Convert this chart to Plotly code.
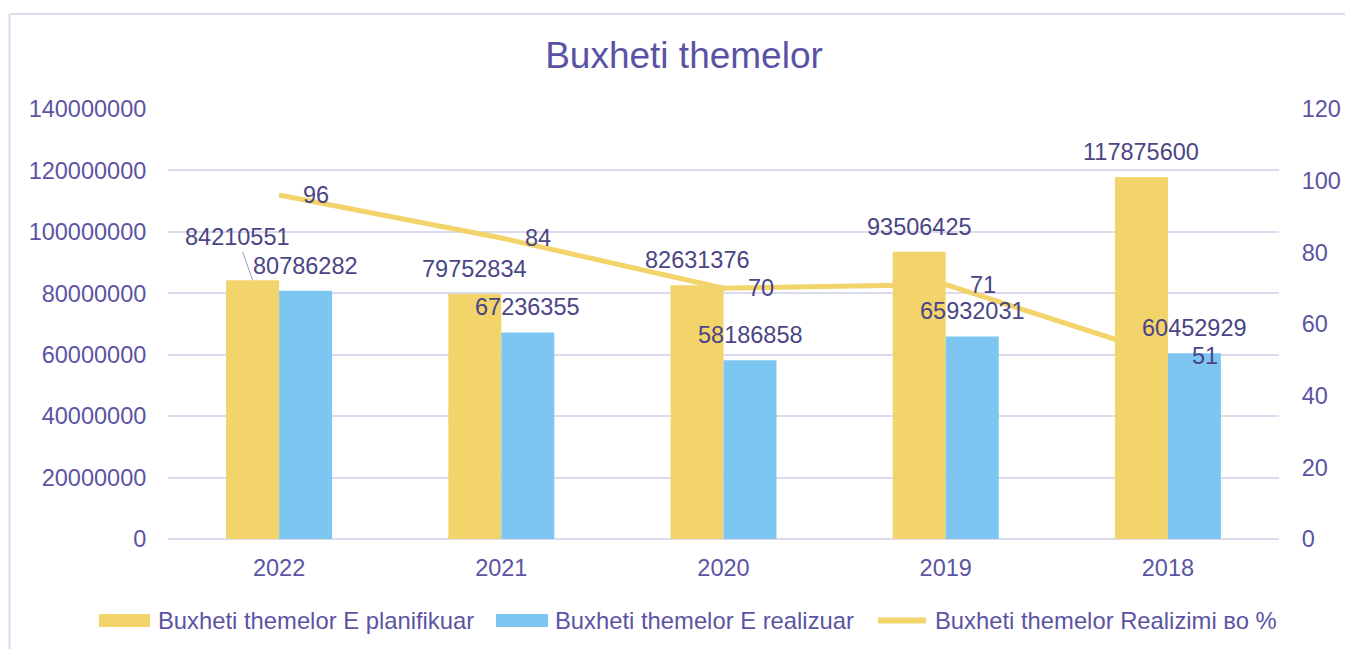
import plotly.graph_objects as go

# ---------------- data ----------------
years = ["2022", "2021", "2020", "2019", "2018"]
planned = [84210551, 79752834, 82631376, 93506425, 117875600]
realized = [80786282, 67236355, 58186858, 65932031, 60452929]
percent = [96, 84, 70, 71, 51]
left_ticks = [0, 20000000, 40000000, 60000000, 80000000, 100000000, 120000000, 140000000]
right_ticks = [0, 20, 40, 60, 80, 100, 120]
series_names = ["Buxheti themelor E planifikuar",
                "Buxheti themelor E realizuar",
                "Buxheti themelor Realizimi во %"]
chart_title = "Buxheti themelor"

# ---------------- styles ----------------
W, H = 1345, 649
L, R, T, B = 168, 66, 109, 110
PW, PH = W - L - R, H - T - B
YELLOW = "#F2D46B"
BLUE = "#7EC6F2"
GRID = "#DCDAEE"
TICK_COLOR = "#5B54A3"
LABEL_COLOR = "#4A4585"
FONT = "Liberation Sans, Arial, sans-serif"
FS = 23.5
LEG_FS = 23.8


def px_x(p):
    return (p - L) / PW


def px_y(p):
    return (H - B - p) / PH


fig = go.Figure()
fig.add_trace(go.Bar(x=years, y=planned, name=series_names[0],
                     marker=dict(color=YELLOW, line=dict(width=0)), showlegend=False))
fig.add_trace(go.Bar(x=years, y=realized, name=series_names[1],
                     marker=dict(color=BLUE, line=dict(width=0)), showlegend=False))
fig.add_trace(go.Scatter(x=years, y=percent, name=series_names[2], yaxis="y2",
                         mode="lines", line=dict(color=YELLOW, width=5),
                         showlegend=False))

annotations = []
bar_half = 26.5
lab_font = dict(family=FONT, size=FS, color=LABEL_COLOR)
for i, yr in enumerate(years):
    if i == 0:
        annotations.append(dict(x=i, y=planned[i], xref="x", yref="y", xshift=-bar_half,
                                text=str(planned[i]), showarrow=True, arrowhead=0,
                                arrowwidth=1, arrowcolor="#9C97C7", ax=-15, ay=-43,
                                standoff=0, font=lab_font))
    else:
        annotations.append(dict(x=i, y=planned[i], xref="x", yref="y", xshift=-bar_half,
                                yshift=25, text=str(planned[i]), showarrow=False,
                                yanchor="middle", font=lab_font))
    annotations.append(dict(x=i, y=realized[i], xref="x", yref="y", xshift=bar_half,
                            yshift=25, text=str(realized[i]), showarrow=False,
                            yanchor="middle", font=lab_font))
    annotations.append(dict(x=i, y=percent[i], xref="x", yref="y2", xshift=37,
                            text=str(percent[i]), showarrow=False, yanchor="middle",
                            font=lab_font))

# custom legend
legend_y = 620.5
legend_items = [
    ("rect", YELLOW, 99, 150, 156, series_names[0]),
    ("rect", BLUE, 496, 548, 553, series_names[1]),
    ("line", YELLOW, 878, 926, 933, series_names[2]),
]
shapes = []
for kind, col, x0, x1, tx, name in legend_items:
    if kind == "rect":
        shapes.append(dict(type="rect", xref="paper", yref="paper",
                           x0=px_x(x0), x1=px_x(x1), y0=px_y(legend_y - 6.5), y1=px_y(legend_y + 6.5),
                           fillcolor=col, line=dict(width=0)))
    else:
        shapes.append(dict(type="line", xref="paper", yref="paper",
                           x0=px_x(x0), x1=px_x(x1), y0=px_y(legend_y), y1=px_y(legend_y),
                           line=dict(color=col, width=6)))
    annotations.append(dict(x=px_x(tx), y=px_y(legend_y), xref="paper", yref="paper",
                            xanchor="left", yanchor="middle", text=name, showarrow=False,
                            font=dict(family=FONT, size=LEG_FS, color=TICK_COLOR)))

# outer border (left and top edges visible)
shapes.append(dict(type="line", xref="paper", yref="paper",
                   x0=px_x(9.5), x1=px_x(9.5), y0=px_y(14), y1=px_y(680),
                   line=dict(color=GRID, width=2)))
shapes.append(dict(type="line", xref="paper", yref="paper",
                   x0=px_x(9.5), x1=px_x(1380), y0=px_y(14), y1=px_y(14),
                   line=dict(color=GRID, width=2)))

fig.update_layout(
    width=W, height=H,
    margin=dict(l=L, r=R, t=T, b=B, pad=0, autoexpand=False),
    paper_bgcolor="white", plot_bgcolor="white",
    font=dict(family=FONT, size=FS, color=TICK_COLOR),
    title=dict(text=chart_title, xref="container", yref="container",
               x=684 / W, y=1 - 55 / H, xanchor="center", yanchor="middle",
               font=dict(family=FONT, size=37, color="#5A53A5")),
    barmode="group", bargap=0.523, bargroupgap=0,
    xaxis=dict(type="category", range=[-0.5, len(years) - 0.5], autorange=False,
               automargin=False,
               showgrid=False, showline=False, zeroline=False,
               ticks="outside", ticklen=8, tickcolor="rgba(0,0,0,0)",
               tickfont=dict(family=FONT, size=FS, color=TICK_COLOR)),
    yaxis=dict(range=[0, 140000000], autorange=False, tickvals=left_ticks,
               ticktext=[str(v) for v in left_ticks], automargin=False,
               showgrid=True, gridcolor=GRID, gridwidth=2,
               zeroline=True, zerolinecolor=GRID, zerolinewidth=2,
               showline=False, ticks="outside", ticklen=16, tickcolor="rgba(0,0,0,0)",
               tickfont=dict(family=FONT, size=FS, color=TICK_COLOR)),
    yaxis2=dict(range=[0, 120], autorange=False, tickvals=right_ticks,
                ticktext=[str(v) for v in right_ticks], automargin=False,
                overlaying="y", side="right", showgrid=False, zeroline=False,
                showline=False, ticks="outside", ticklen=17, tickcolor="rgba(0,0,0,0)",
                tickfont=dict(family=FONT, size=FS, color=TICK_COLOR)),
    showlegend=False,
    annotations=annotations,
    shapes=shapes,
)

fig.write_html("out.html", config={"displayModeBar": False},
               post_script="document.body.style.margin='0';")
